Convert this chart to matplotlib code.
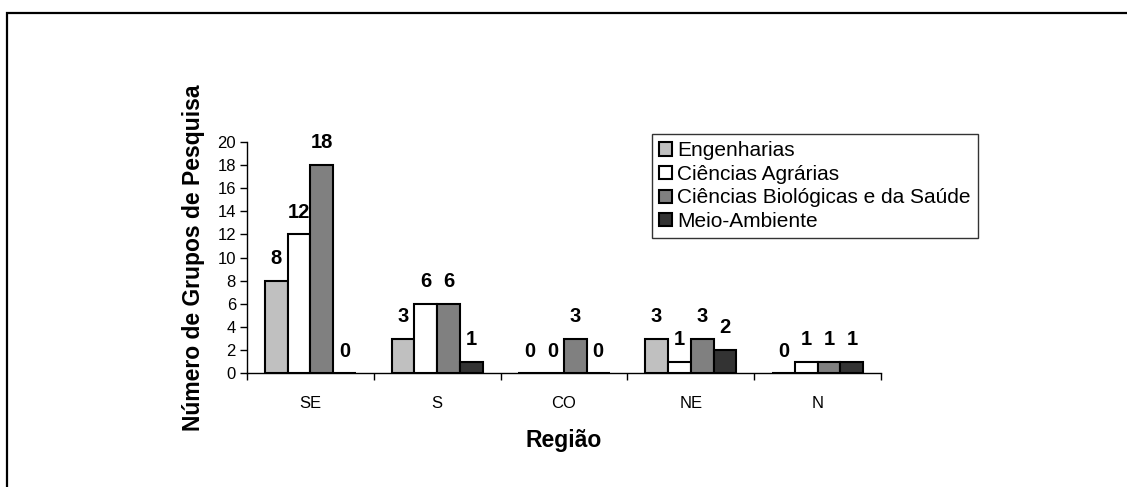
import numpy as np
import matplotlib.pyplot as plt
from matplotlib.patches import Rectangle

plt.rcParams["font.family"] = ["Liberation Sans", "DejaVu Sans"]

regions = ["SE", "S", "CO", "NE", "N"]
series = ["Engenharias", "Ciências Agrárias",
          "Ciências Biológicas e da Saúde", "Meio-Ambiente"]
engenharias = [8, 3, 0, 3, 0]
agrarias = [12, 6, 0, 1, 1]
biologicas = [18, 6, 3, 3, 1]
meio_ambiente = [0, 1, 0, 2, 1]
colors = ["#c0c0c0", "#ffffff", "#808080", "#333333"]

fig = plt.figure(figsize=(11.27, 4.87), dpi=100)
# outer frame (cut off at right and bottom)
fig.patches.append(Rectangle((7 / 1127, -0.1), 1.2, 1 - 12.5 / 487 + 0.1,
                             transform=fig.transFigure, fill=False,
                             edgecolor="black", linewidth=1.6))

ax = fig.add_axes([247 / 1127, 1 - 373.3 / 487, 634 / 1127, 231.6 / 487])

x = np.arange(len(regions))
w = 0.18
data = [engenharias, agrarias, biologicas, meio_ambiente]
for i, (vals, name, c) in enumerate(zip(data, series, colors)):
    pos = x + (i - 1.5) * w
    ax.bar(pos, vals, w, color=c, edgecolor="black", linewidth=1.5, label=name)
    for p, v in zip(pos, vals):
        ax.annotate(str(v), (p, v), xytext=(0, 12), textcoords="offset points",
                    ha="center", va="baseline", fontsize=14.5, fontweight="bold")

ax.set_xlim(-0.5, len(regions) - 0.5)
ax.set_ylim(0, 20)
ax.set_yticks(range(0, 21, 2))
ax.set_xticks(np.arange(len(regions) + 1) - 0.5)
ax.set_xticklabels([])
ax.set_xticks(x, minor=True)
ax.set_xticklabels(regions, minor=True)
ax.tick_params(axis="x", which="minor", length=0, pad=16, labelsize=12)
ax.tick_params(axis="x", which="major", length=5, width=1, direction="out")
ax.tick_params(axis="y", length=5, width=1, labelsize=12, pad=3)
for s in ("top", "right"):
    ax.spines[s].set_visible(False)
for s in ("left", "bottom"):
    ax.spines[s].set_linewidth(1)

ax.set_ylabel("Número de Grupos de Pesquisa", fontsize=16.5,
              fontweight="bold", labelpad=9)
ax.set_xlabel("Região", fontsize=16.5, fontweight="bold", labelpad=13)

leg = ax.legend(loc="upper left", bbox_to_anchor=(652 / 1127, 1 - 134 / 487),
                bbox_transform=fig.transFigure, fontsize=15,
                frameon=True, fancybox=False, edgecolor="black",
                handlelength=0.6, handleheight=0.6, handletextpad=0.25,
                borderpad=0.35, labelspacing=0.22, borderaxespad=0)
leg.get_frame().set_linewidth(1)

fig.savefig("out.png", dpi=100)
